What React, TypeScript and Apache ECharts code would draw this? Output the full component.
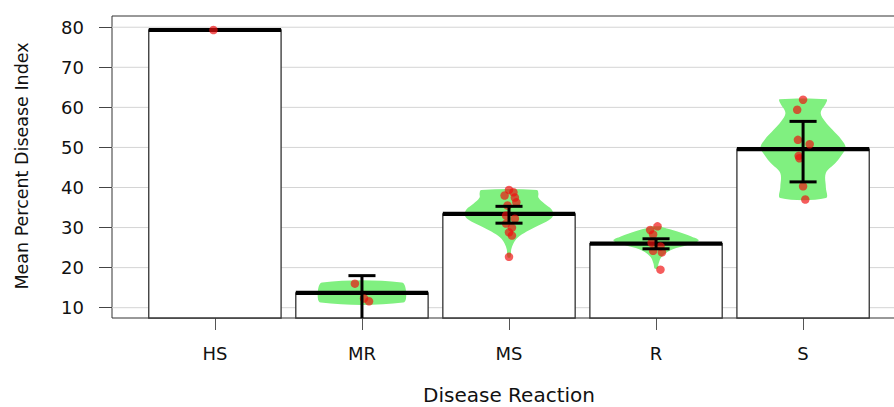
import React, { useEffect, useRef } from "react";
import * as echarts from "echarts";

const categories = ["HS", "MR", "MS", "R", "S"];
const means = [79.3, 13.7, 33.4, 26.0, 49.6];
const ciLow: (number | null)[] = [null, 6.0, 31.1, 24.7, 41.4];
const ciHigh: (number | null)[] = [null, 18.0, 35.3, 27.2, 56.5];
const yTicks = [10, 20, 30, 40, 50, 60, 70, 80];

const pointsHS = [79.3];
const pointsMR = [16.0, 12.3, 11.6];
const pointsMS = [39.4, 38.8, 38.0, 37.5, 36.3, 35.5, 33.0, 32.2, 31.0, 30.0, 28.8, 28.0, 22.7];
const pointsR = [30.3, 29.4, 28.3, 26.2, 25.3, 24.2, 23.8, 19.5];
const pointsS = [61.9, 59.4, 51.9, 50.8, 47.9, 47.3, 40.3, 37.0];

const jitterHS = [-0.01];
const jitterMR = [-0.048, 0.014, 0.048];
const jitterMS = [0.0, 0.03, -0.03, 0.04, 0.05, -0.01, -0.02, 0.04, -0.02, 0.02, 0.0, 0.02, 0.0];
const jitterR = [0.01, -0.04, -0.02, -0.03, 0.03, -0.02, 0.04, 0.03];
const jitterS = [0.0, -0.04, -0.035, 0.045, -0.03, -0.025, 0.0, 0.015];

// violin outlines: [value, half width in category units]
const violinHS: number[][] = [];
const violinMR = [[16.3, 0.27], [14.0, 0.30], [11.3, 0.28]];
const violinMS = [[39.4, 0.19], [38.5, 0.2], [37.5, 0.2], [36.0, 0.24], [34.5, 0.29], [33.0, 0.3], [31.8, 0.27], [30.5, 0.2], [29.0, 0.12], [27.5, 0.06], [26.0, 0.03], [24.5, 0.015], [22.6, 0.01]];
const violinR = [[30.3, 0.03], [30.0, 0.05], [29.1, 0.14], [27.8, 0.24], [26.8, 0.29], [25.7, 0.22], [24.5, 0.11], [22.8, 0.04], [21.0, 0.017], [19.8, 0.01]];
const violinS = [[62.0, 0.16], [61.0, 0.155], [58.6, 0.12], [56.5, 0.15], [54.4, 0.2], [52.0, 0.26], [49.9, 0.29], [48.0, 0.26], [46.1, 0.22], [43.6, 0.155], [40.0, 0.155], [37.4, 0.155]];

const allPoints = [pointsHS, pointsMR, pointsMS, pointsR, pointsS];
const allJitter = [jitterHS, jitterMR, jitterMS, jitterR, jitterS];
const allViolins = [violinHS, violinMR, violinMS, violinR, violinS];

const X_MIN = 0.3;
const X_MAX = 5.7;
const Y_MIN = 7.43;
const Y_MAX = 82.8;
const BAR_HALF = 0.45;
const CAP_HALF = 0.092;
const FONT = "DejaVu Sans";

export default function App() {
  const ref = useRef<HTMLDivElement>(null);
  useEffect(() => {
    if (!ref.current) return;
    const chart = echarts.init(ref.current, null, { renderer: "svg" });

    const scatterData: number[][] = [];
    allPoints.forEach((pts, i) => {
      pts.forEach((v, j) => scatterData.push([i + 1 + allJitter[i][j], v]));
    });

    const option: any = {
      animation: false,
      backgroundColor: "#ffffff",
      grid: {
        left: 112,
        top: 16,
        width: 794,
        height: 302,
        show: true,
        borderColor: "#333333",
        borderWidth: 1,
        backgroundColor: "transparent",
      },
      xAxis: {
        type: "value",
        min: X_MIN,
        max: X_MAX,
        axisLine: { show: false },
        splitLine: { show: false },
        axisTick: { show: true, customValues: [1, 2, 3, 4, 5], length: 12, lineStyle: { color: "#555", width: 1 } },
        axisLabel: {
          customValues: [1, 2, 3, 4, 5],
          formatter: (v: number) => categories[Math.round(v) - 1] ?? "",
          fontFamily: FONT,
          fontSize: 18,
          color: "#111",
          margin: 26,
        },
      },
      yAxis: {
        type: "value",
        min: Y_MIN,
        max: Y_MAX,
        axisLine: { show: false },
        splitLine: { show: false },
        axisTick: { show: true, customValues: yTicks, length: 13, lineStyle: { color: "#444", width: 1 } },
        axisLabel: {
          customValues: yTicks,
          fontFamily: FONT,
          fontSize: 18,
          color: "#111",
          margin: 28,
        },
      },
      graphic: [
        {
          type: "text",
          x: 22,
          y: 166,
          rotation: Math.PI / 2,
          style: {
            text: "Mean Percent Disease Index",
            font: `17.5px ${FONT}`,
            fill: "#111",
            align: "center",
            verticalAlign: "middle",
          },
        },
        {
          type: "text",
          x: 509,
          y: 395,
          style: {
            text: "Disease Reaction",
            font: `20px ${FONT}`,
            lineHeight: 20,
            fill: "#111",
            align: "center",
            verticalAlign: "middle",
          },
        },
      ],
      series: [
        {
          type: "custom",
          z: 1,
          silent: true,
          data: yTicks.map((v) => [v]),
          renderItem: (params: any, api: any) => {
            const v = api.value(0);
            const p1 = api.coord([X_MIN, v]);
            const p2 = api.coord([X_MAX, v]);
            return {
              type: "line",
              shape: { x1: p1[0], y1: p1[1], x2: p2[0], y2: p2[1] },
              style: { stroke: "#d4d4d4", lineWidth: 1 },
            };
          },
        },
        {
          type: "custom",
          z: 2,
          silent: true,
          data: means.map((m, i) => [i + 1, m]),
          renderItem: (params: any, api: any) => {
            const x = api.value(0);
            const m = api.value(1);
            const tl = api.coord([x - BAR_HALF, m]);
            const br = api.coord([x + BAR_HALF, Y_MIN]);
            return {
              type: "rect",
              shape: { x: tl[0], y: tl[1], width: br[0] - tl[0], height: br[1] - tl[1] },
              style: { fill: "#ffffff", stroke: "#333333", lineWidth: 1.3 },
            };
          },
        },
        {
          type: "custom",
          z: 3,
          silent: true,
          data: categories.map((c, i) => [i + 1]),
          renderItem: (params: any, api: any) => {
            const x = api.value(0);
            const prof = allViolins[x - 1];
            if (!prof || prof.length === 0) return { type: "group", children: [] };
            const left = prof.map((p) => api.coord([x - p[1], p[0]]));
            const right = prof.slice().reverse().map((p) => api.coord([x + p[1], p[0]]));
            return {
              type: "polygon",
              shape: { points: left.concat(right), smooth: 0.35 },
              style: { fill: "#80f080", stroke: "none" },
            };
          },
        },
        {
          type: "custom",
          z: 4,
          silent: true,
          data: means.map((m, i) => [i + 1, m]),
          renderItem: (params: any, api: any) => {
            const x = api.value(0);
            const m = api.value(1);
            const p1 = api.coord([x - BAR_HALF, m]);
            const p2 = api.coord([x + BAR_HALF, m]);
            return {
              type: "line",
              shape: { x1: p1[0], y1: p1[1], x2: p2[0], y2: p2[1] },
              style: { stroke: "#000000", lineWidth: 4.2 },
            };
          },
        },
        {
          type: "scatter",
          z: 5,
          silent: true,
          symbol: "circle",
          symbolSize: 8.5,
          itemStyle: { color: "rgba(240,15,15,0.85)" },
          data: scatterData,
        },
        {
          type: "custom",
          z: 6,
          silent: true,
          data: categories.map((c, i) => [i + 1, ciLow[i] ?? NaN, ciHigh[i] ?? NaN]),
          renderItem: (params: any, api: any) => {
            const x = api.value(0);
            const lo = api.value(1);
            const hi = api.value(2);
            if (isNaN(lo) || isNaN(hi)) return { type: "group", children: [] };
            const loC = Math.max(lo, Y_MIN);
            const hiC = Math.min(hi, Y_MAX);
            const a = api.coord([x, loC]);
            const b = api.coord([x, hiC]);
            const children: any[] = [
              { type: "line", shape: { x1: a[0], y1: a[1], x2: b[0], y2: b[1] }, style: { stroke: "#000", lineWidth: 3 } },
            ];
            [lo, hi].forEach((v) => {
              if (v >= Y_MIN && v <= Y_MAX) {
                const l = api.coord([x - CAP_HALF, v]);
                const r = api.coord([x + CAP_HALF, v]);
                children.push({ type: "line", shape: { x1: l[0], y1: l[1], x2: r[0], y2: r[1] }, style: { stroke: "#000", lineWidth: 3 } });
              }
            });
            return { type: "group", children };
          },
        },
      ],
    };
    chart.setOption(option);
    return () => chart.dispose();
  }, []);
  return (
    <div style={{ position: "fixed", left: 0, top: 0, width: 894, height: 407, overflow: "hidden" }}>
      <div ref={ref} style={{ width: 920, height: 407 }} />
    </div>
  );
}
